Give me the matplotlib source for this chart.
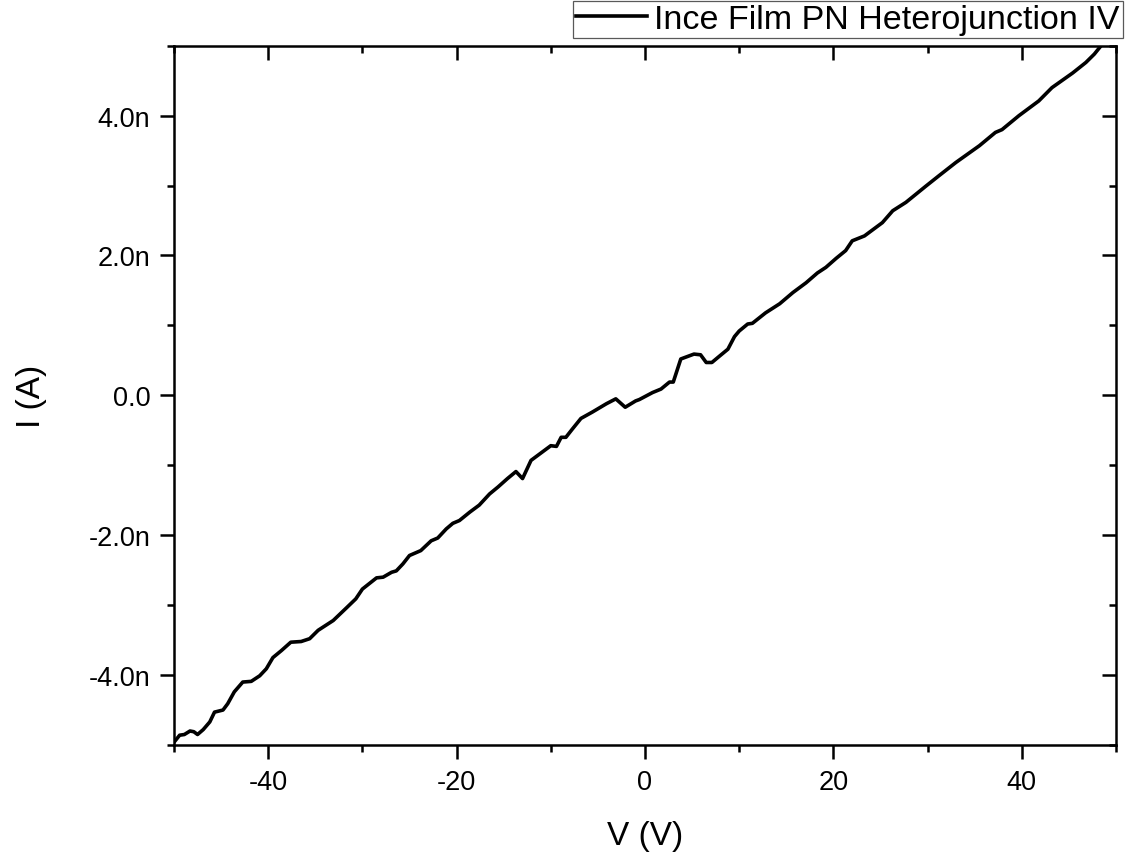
import matplotlib
matplotlib.use('Agg')
import matplotlib.pyplot as plt
from matplotlib.ticker import MultipleLocator, FuncFormatter

plt.rcParams['font.family'] = ['Liberation Sans', 'DejaVu Sans']
plt.rcParams['axes.unicode_minus'] = False

# IV sweep (V in volts, I in nA)
volts = [-50.0, -49.4, -48.9, -48.3, -47.9, -47.5, -46.9, -46.2, -45.7, -44.8,
         -44.3, -43.6, -42.7, -41.8, -40.9, -40.2, -39.5, -38.6, -37.6, -36.5,
         -35.6, -34.7, -33.1, -31.7, -30.7, -30.0, -28.5, -27.8, -26.9, -26.4,
         -25.7, -25.0, -23.8, -22.7, -22.0, -21.1, -20.4, -19.7, -18.6, -17.6,
         -16.5, -15.6, -14.6, -13.7, -13.0, -12.1, -10.9, -10.0, -9.4, -8.9,
         -8.4, -7.7, -6.8, -5.6, -4.1, -3.1, -2.1, -1.0, -0.6, 0.8,
         1.7, 2.6, 3.0, 3.8, 5.2, 5.9, 6.5, 7.1, 7.9, 8.8,
         9.5, 10.0, 10.9, 11.4, 12.8, 14.3, 15.7, 17.1, 18.3, 19.2,
         20.3, 21.3, 22.0, 23.3, 25.2, 26.3, 27.7, 29.8, 31.2, 33.0,
         35.5, 37.2, 37.9, 39.7, 41.8, 43.2, 45.4, 46.8, 47.7, 48.3]
current_nA = [-4.96, -4.86, -4.85, -4.80, -4.81, -4.85, -4.78, -4.67, -4.53, -4.50,
              -4.41, -4.24, -4.10, -4.09, -4.01, -3.91, -3.75, -3.65, -3.53, -3.52,
              -3.48, -3.36, -3.22, -3.04, -2.91, -2.77, -2.61, -2.60, -2.53, -2.51,
              -2.41, -2.29, -2.22, -2.08, -2.04, -1.91, -1.83, -1.79, -1.67, -1.57,
              -1.41, -1.31, -1.19, -1.09, -1.19, -0.93, -0.81, -0.72, -0.73, -0.60,
              -0.60, -0.48, -0.33, -0.24, -0.12, -0.05, -0.17, -0.08, -0.06, 0.04,
              0.09, 0.19, 0.19, 0.52, 0.59, 0.58, 0.47, 0.47, 0.56, 0.66,
              0.84, 0.92, 1.02, 1.03, 1.18, 1.31, 1.47, 1.61, 1.75, 1.83,
              1.96, 2.07, 2.21, 2.28, 2.47, 2.64, 2.76, 2.99, 3.14, 3.33,
              3.57, 3.76, 3.80, 4.00, 4.21, 4.40, 4.61, 4.76, 4.88, 4.98]
current = [c * 1e-9 for c in current_nA]

series_label = 'Ince Film PN Heterojunction IV'


def nano_fmt(v, pos):
    n = v * 1e9
    if abs(n) < 1e-6:
        return '0.0'
    return '{:.1f}n'.format(n)


fig = plt.figure(figsize=(11.26, 8.54), dpi=100)
ax = fig.add_axes([174 / 1126, 1 - 746 / 854, (1116 - 174) / 1126, (746 - 46.7) / 854])

line, = ax.plot(volts, current, color='black', lw=2.6, label=series_label)

ax.set_xlim(-50, 50)
ax.set_ylim(-5e-9, 5e-9)
ax.xaxis.set_major_locator(MultipleLocator(20))
ax.xaxis.set_minor_locator(MultipleLocator(10))
ax.yaxis.set_major_locator(MultipleLocator(2e-9))
ax.yaxis.set_minor_locator(MultipleLocator(1e-9))
ax.yaxis.set_major_formatter(FuncFormatter(nano_fmt))

for s in ax.spines.values():
    s.set_linewidth(1.8)

ax.tick_params(which='both', width=1.8, labelsize=19.5, pad=7)
ax.tick_params(which='major', length=10)
ax.tick_params(which='minor', length=5)
ax.tick_params(which='both', top=True, right=True)
# top and right ticks point inward, bottom and left outward
for t in ax.xaxis.get_major_ticks() + ax.xaxis.get_minor_ticks():
    t.tick2line.set_marker(3)
for t in ax.yaxis.get_major_ticks() + ax.yaxis.get_minor_ticks():
    t.tick2line.set_marker(0)

ax.set_xlabel('V (V)', fontsize=24, labelpad=18)
ax.set_ylabel('I (A)', fontsize=24, labelpad=30)

leg = fig.legend(handles=[line], loc='upper right',
                 bbox_to_anchor=(1123 / 1126, 1 - 1.5 / 854),
                 fontsize=24.5, handlelength=2.1, handletextpad=0.2,
                 borderpad=0.1, borderaxespad=0, fancybox=False,
                 framealpha=1, edgecolor='0.35')
leg.get_frame().set_linewidth(0.9)

fig.savefig('out.png', dpi=100)
